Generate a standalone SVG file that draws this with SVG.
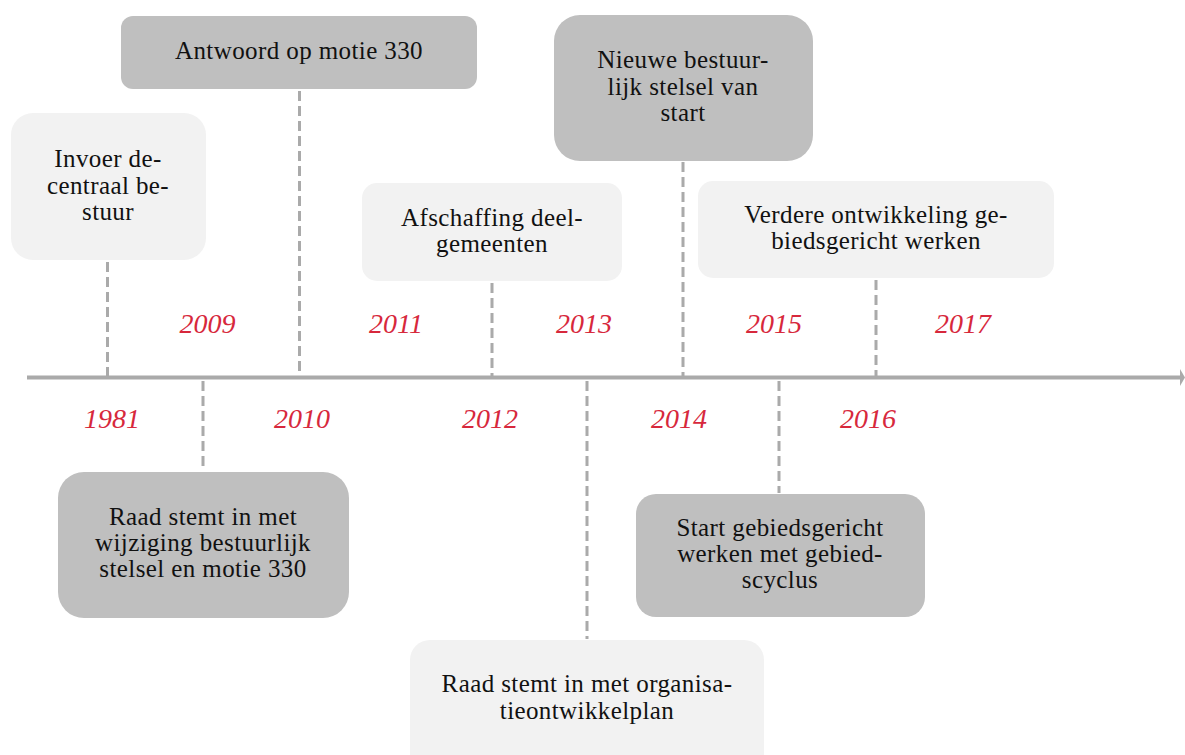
<svg xmlns="http://www.w3.org/2000/svg" width="1185" height="755" viewBox="0 0 1185 755">
<style>
.light{fill:#f2f2f2}
.dark{fill:#bfbfbf}
.t{font-family:"Liberation Serif","Times New Roman",serif;font-size:25px;fill:#111;text-anchor:middle;letter-spacing:0.4px}
.y{font-family:"Liberation Serif","Times New Roman",serif;font-size:28px;font-style:italic;fill:#d7283c;text-anchor:middle}
.c{stroke:#aaaaaa;stroke-width:3;stroke-dasharray:10 5;fill:none}
</style>
<rect width="1185" height="755" fill="#ffffff"/>
<g id="connectors">
<line x1="27" y1="377.5" x2="1181" y2="377.5" stroke="#aaaaaa" stroke-width="4"/>
<polygon points="1180,369 1185,377.5 1180,386" fill="#aaaaaa"/>
<line class="c" x1="107.5" y1="262" x2="107.5" y2="377"/>
<line class="c" x1="299.5" y1="91" x2="299.5" y2="377"/>
<line class="c" x1="492" y1="283" x2="492" y2="377"/>
<line class="c" x1="683" y1="162" x2="683" y2="377"/>
<line class="c" x1="876" y1="280" x2="876" y2="377"/>
<line class="c" x1="203" y1="381" x2="203" y2="471"/>
<line class="c" x1="587" y1="381" x2="587" y2="639"/>
<line class="c" x1="779" y1="381" x2="779" y2="493"/>
</g>
<g id="years">
<text class="y" x="112" y="428">1981</text>
<text class="y" x="207.5" y="333">2009</text>
<text class="y" x="302" y="428">2010</text>
<text class="y" x="396" y="333">2011</text>
<text class="y" x="490" y="428">2012</text>
<text class="y" x="584" y="333">2013</text>
<text class="y" x="679" y="428">2014</text>
<text class="y" x="774" y="333">2015</text>
<text class="y" x="868" y="428">2016</text>
<text class="y" x="963" y="333">2017</text>
</g>
<g id="n1981">
<rect class="light" x="11" y="113" width="195" height="147" rx="22"/>
<text class="t" x="108" y="167">Invoer de-</text>
<text class="t" x="108" y="193.5">centraal be-</text>
<text class="t" x="108" y="220">stuur</text>
</g>
<g id="n2010">
<rect class="dark" x="121" y="16" width="356" height="73" rx="12"/>
<text class="t" x="299" y="59">Antwoord op motie 330</text>
</g>
<g id="n2012">
<rect class="light" x="362" y="183" width="260" height="98" rx="15"/>
<text class="t" x="492" y="226">Afschaffing deel-</text>
<text class="t" x="492" y="252">gemeenten</text>
</g>
<g id="n2014">
<rect class="dark" x="554" y="15" width="259" height="146" rx="26"/>
<text class="t" x="683" y="68">Nieuwe bestuur-</text>
<text class="t" x="683" y="94.5">lijk stelsel van</text>
<text class="t" x="683" y="121">start</text>
</g>
<g id="n2016">
<rect class="light" x="698" y="181" width="356" height="97" rx="15"/>
<text class="t" x="876" y="223">Verdere ontwikkeling ge-</text>
<text class="t" x="876" y="249">biedsgericht werken</text>
</g>
<g id="n2009">
<rect class="dark" x="58" y="472" width="291" height="146" rx="26"/>
<text class="t" x="203" y="525">Raad stemt in met</text>
<text class="t" x="203" y="551">wijziging bestuurlijk</text>
<text class="t" x="203" y="577">stelsel en motie 330</text>
</g>
<g id="n2013">
<rect class="light" x="410" y="640" width="354" height="140" rx="20"/>
<text class="t" x="587" y="692">Raad stemt in met organisa-</text>
<text class="t" x="587" y="718.5">tieontwikkelplan</text>
</g>
<g id="n2015">
<rect class="dark" x="636" y="494" width="289" height="123" rx="20"/>
<text class="t" x="780" y="536">Start gebiedsgericht</text>
<text class="t" x="780" y="562">werken met gebied-</text>
<text class="t" x="780" y="588">scyclus</text>
</g>
</svg>
